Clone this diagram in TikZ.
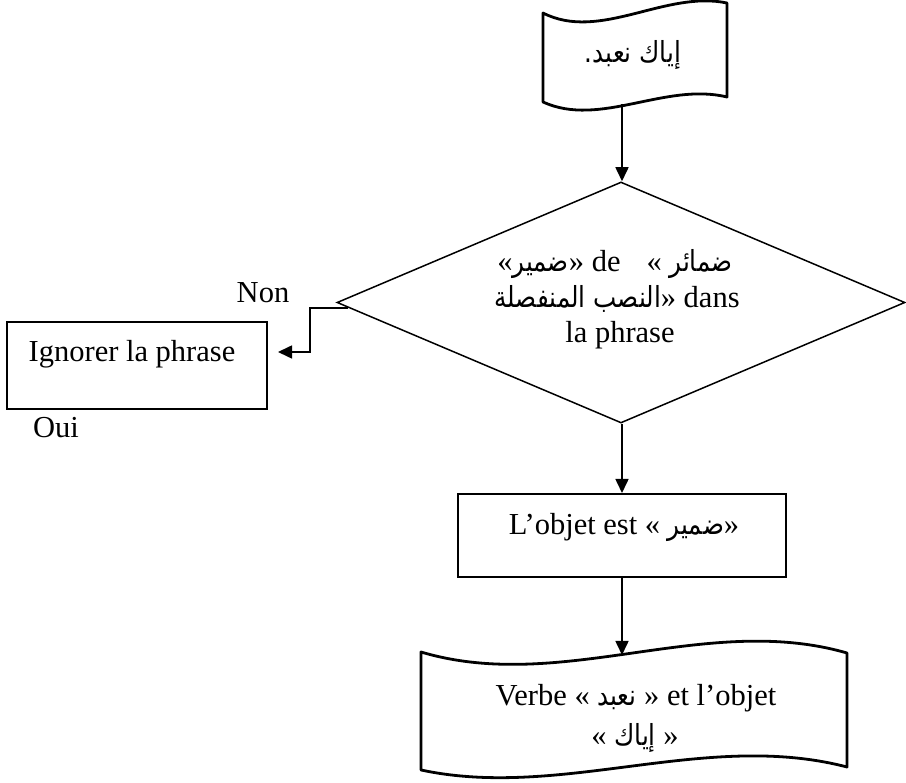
\documentclass[tikz,border=0pt]{standalone}
\usepackage{fontspec}
\setmainfont{Liberation Serif}
\newfontfamily\arabicfont[Script=Arabic,FakeStretch=0.85]{DejaVu Sans}
\TeXXeTstate=1
\usetikzlibrary{arrows.meta,shapes.geometric}
% Arabic run, set right to left
\newcommand\artxt[1]{{\arabicfont\fontsize{29}{33}\selectfont\beginR #1\endR}}

\begin{document}
\begin{tikzpicture}[x=1pt,y=-1pt,
  txt/.style={font=\fontsize{30.5}{35}\selectfont, inner sep=0pt, anchor=base},
  boxnode/.style={draw, line width=2pt, inner sep=0pt},
  tape/.style={draw, line width=2.8pt, line join=round},
  arr/.style={line width=1.6pt, -{Triangle[length=14pt,width=13pt]}},
]
\useasboundingbox (0,0) rectangle (906,783);

% input tape
\draw[tape] (543,13) .. controls (600,42) and (665,-10) .. (727,3)
  -- (727,97) .. controls (665,82) and (600,128) .. (543,102) -- cycle;
\coordinate (tapeAbot) at (622,104);
\node[txt] (tapeAtxt) at (633,63) {\artxt{إياك نعبد.}};

% decision
\node[diamond, draw, line width=1.5pt, minimum width=568pt, minimum height=241pt,
      inner sep=0pt] (dia) at (621,302.5) {};
\node[txt] (dl1) at (615,272) {«\artxt{ضمير}» de\hspace{26pt}« \artxt{ضمائر}};
\node[txt] (dl2) at (617,308) {\artxt{النصب المنفصلة}»\ dans};
\node[txt] (dl3) at (620,343) {la phrase};

% rejection branch
\node[boxnode, minimum width=260pt, minimum height=87pt] (ign) at (137,365.5) {};
\node[txt] (igntxt) at (132,362) {Ignorer la phrase};
\node[txt] (non) at (263,303) {Non};
\node[txt] (oui) at (56,438) {Oui};
\coordinate (nstart) at (348,308);
\coordinate (ntip) at (278,352);
\draw[arr] (nstart) -- ++(-38,0) |- (ntip);

% object box
\node[boxnode, minimum width=328pt, minimum height=83pt] (obj) at (622,535.5) {};
\node[txt] (objtxt) at (624,535) {L’objet est « \artxt{ضمير}»};

% output tape
\draw[tape] (421,652) .. controls (562,694) and (705,612) .. (847,653)
  -- (847,767) .. controls (705,730) and (562,800) .. (421,770) -- cycle;
\coordinate (tapeBtop) at (622,655);
\node[txt] (out1) at (636,705) {Verbe « \artxt{نعبد} » et l’objet};
\node[txt] (out2) at (635,745) {« \artxt{إياك} »};

% connectors
\draw[arr] (tapeAbot) -- (tapeAbot |- dia.north);
\draw[arr] (dia.south -| obj.north) -- (obj.north);
\draw[arr] (obj.south) -- (tapeBtop);
\end{tikzpicture}
\end{document}
